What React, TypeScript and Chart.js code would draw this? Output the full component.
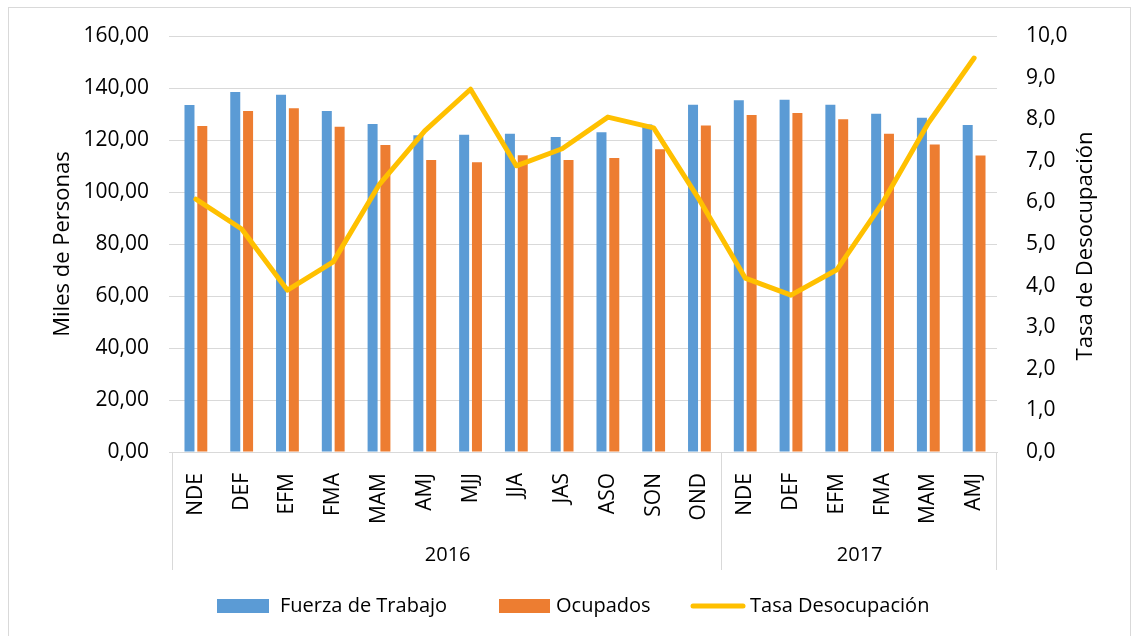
import React, { useEffect, useRef } from "react";
import { Chart, registerables } from "chart.js";

Chart.register(...registerables);

const categories = ["NDE", "DEF", "EFM", "FMA", "MAM", "AMJ", "MJJ", "JJA", "JAS", "ASO", "SON", "OND", "NDE", "DEF", "EFM", "FMA", "MAM", "AMJ"];
const categoryYears = ["2016", "2016", "2016", "2016", "2016", "2016", "2016", "2016", "2016", "2016", "2016", "2016", "2017", "2017", "2017", "2017", "2017", "2017"];
const fuerzaTrabajo = [133.5, 138.5, 137.4, 131.2, 126.2, 121.8, 122.0, 122.4, 121.2, 123.0, 126.0, 133.6, 135.3, 135.5, 133.6, 130.1, 128.6, 125.8];
const ocupados = [125.4, 131.2, 132.2, 125.1, 118.1, 112.3, 111.4, 114.1, 112.3, 113.1, 116.4, 125.6, 129.6, 130.4, 128.0, 122.4, 118.3, 114.0];
const tasaDesocupacion = [6.08, 5.36, 3.89, 4.57, 6.42, 7.72, 8.72, 6.88, 7.29, 8.05, 7.79, 6.06, 4.18, 3.77, 4.38, 5.99, 7.91, 9.47];

const seriesNames = ["Fuerza de Trabajo", "Ocupados", "Tasa Desocupación"];
const leftTitle = "Miles de Personas";
const rightTitle = "Tasa de Desocupación";

const BLUE = "#5B9BD5";
const ORANGE = "#ED7D31";
const YELLOW = "#FFC000";
const GRID = "#d9d9d9";
const FONT = "'Open Sans', sans-serif";

const decorPlugin = {
  id: "decor",
  afterDraw(chart: any) {
    const ctx = chart.ctx;
    const xs = chart.scales.x;
    const area = chart.chartArea;
    ctx.save();
    // outer border
    ctx.strokeStyle = GRID;
    ctx.lineWidth = 1;
    ctx.strokeRect(8.5, 7.5, 1122, 640);

    // group separators and year labels
    const n = categories.length;
    const step = (xs.right - xs.left) / n;
    const groups: { year: string; start: number; end: number }[] = [];
    categoryYears.forEach((y, i) => {
      const last = groups[groups.length - 1];
      if (last && last.year === y) last.end = i;
      else groups.push({ year: y, start: i, end: i });
    });
    ctx.strokeStyle = GRID;
    ctx.lineWidth = 1;
    const bounds = new Set<number>();
    groups.forEach((g) => {
      bounds.add(g.start);
      bounds.add(g.end + 1);
    });
    bounds.forEach((b) => {
      const px = Math.round(xs.left + b * step) - 0.5;
      ctx.beginPath();
      ctx.moveTo(px, area.bottom);
      ctx.lineTo(px, 570);
      ctx.stroke();
    });
    ctx.fillStyle = "#000";
    ctx.font = `20px ${FONT}`;
    ctx.textAlign = "center";
    ctx.textBaseline = "middle";
    groups.forEach((g) => {
      const cx = xs.left + ((g.start + g.end + 1) / 2) * step;
      ctx.fillText(g.year, cx, 555);
    });

    // right axis title
    ctx.save();
    ctx.translate(1086, 246);
    ctx.rotate(-Math.PI / 2);
    ctx.font = `22px ${FONT}`;
    ctx.textAlign = "center";
    ctx.textBaseline = "middle";
    ctx.fillText(rightTitle, 0, 0);
    ctx.restore();

    // legend
    const ly = 606;
    ctx.font = `20px ${FONT}`;
    ctx.textAlign = "left";
    ctx.textBaseline = "middle";
    ctx.fillStyle = BLUE;
    ctx.fillRect(217, ly - 7, 52, 14);
    ctx.fillStyle = "#000";
    ctx.fillText(seriesNames[0], 280, ly);
    ctx.fillStyle = ORANGE;
    ctx.fillRect(499, ly - 7, 51, 14);
    ctx.fillStyle = "#000";
    ctx.fillText(seriesNames[1], 556, ly);
    ctx.strokeStyle = YELLOW;
    ctx.lineWidth = 5;
    ctx.lineCap = "round";
    ctx.beginPath();
    ctx.moveTo(693, ly);
    ctx.lineTo(743, ly);
    ctx.stroke();
    ctx.fillStyle = "#000";
    ctx.fillText(seriesNames[2], 750, ly);
    ctx.restore();
  },
};

export default function App() {
  const ref = useRef<HTMLCanvasElement>(null);
  useEffect(() => {
    if (!ref.current) return;
    Chart.defaults.font.family = FONT;
    Chart.defaults.color = "#000";
    const chart = new Chart(ref.current, {
      type: "bar",
      data: {
        labels: categories,
        datasets: [
          {
            type: "line",
            label: seriesNames[2],
            data: tasaDesocupacion,
            yAxisID: "y2",
            borderColor: YELLOW,
            backgroundColor: YELLOW,
            borderWidth: 5,
            pointRadius: 0,
            tension: 0,
            borderJoinStyle: "round",
            borderCapStyle: "round",
            order: 0,
          } as any,
          {
            type: "bar",
            label: seriesNames[0],
            data: fuerzaTrabajo,
            yAxisID: "y",
            backgroundColor: BLUE,
            categoryPercentage: 0.56,
            barPercentage: 0.78,
            order: 1,
          },
          {
            type: "bar",
            label: seriesNames[1],
            data: ocupados,
            yAxisID: "y",
            backgroundColor: ORANGE,
            categoryPercentage: 0.56,
            barPercentage: 0.78,
            order: 1,
          },
        ],
      },
      options: {
        responsive: false,
        animation: false,
        layout: { padding: { top: 36, bottom: 66, left: 0, right: 0 } },
        plugins: {
          legend: { display: false },
          tooltip: { enabled: false },
        },
        scales: {
          x: {
            grid: { display: false },
            border: { display: true, color: GRID },
            ticks: {
              font: { size: 21 },
              minRotation: 90,
              maxRotation: 90,
              autoSkip: false,
              padding: 13,
            },
            afterFit: (s: any) => {
              s.height = 118;
            },
          },
          y: {
            position: "left",
            min: 0,
            max: 160,
            grid: { color: GRID, tickLength: 4 },
            border: { display: false },
            ticks: {
              stepSize: 20,
              font: { size: 21 },
              padding: 20,
              callback: (v: any) => Number(v).toFixed(2).replace(".", ","),
            },
            title: {
              display: true,
              text: leftTitle,
              font: { size: 22 },
              padding: { top: 50, bottom: 0 },
            },
            afterFit: (s: any) => {
              s.width = 173;
            },
          },
          y2: {
            position: "right",
            min: 0,
            max: 10,
            grid: { display: false },
            border: { display: false },
            ticks: {
              stepSize: 1,
              font: { size: 21 },
              padding: 21,
              callback: (v: any) => Number(v).toFixed(1).replace(".", ","),
            },
            afterFit: (s: any) => {
              s.width = 139;
            },
          },
        },
      },
      plugins: [decorPlugin],
    });
    return () => chart.destroy();
  }, []);
  return (
    <div style={{ position: "absolute", left: 0, top: 0, width: 1136, height: 636, background: "#fff" }}>
      <canvas ref={ref} width={1136} height={636} style={{ display: "block" }} />
    </div>
  );
}
